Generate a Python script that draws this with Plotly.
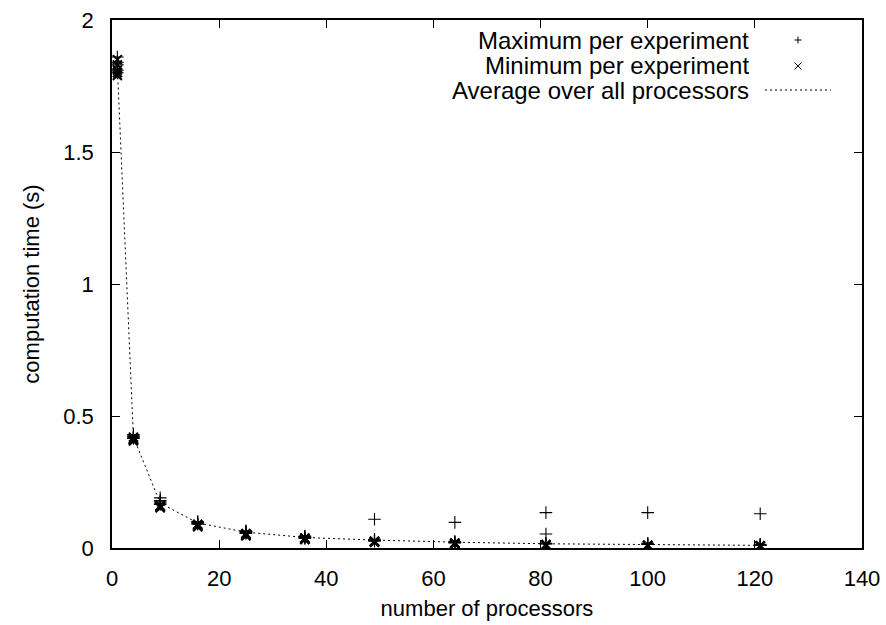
import plotly.graph_objects as go

# Processor counts used in the scaling runs
procs = [1, 4, 9, 16, 25, 36, 49, 64, 81, 100, 121]

# Per-experiment maximum computation time (s), one list per processor count
max_time_runs = [
    [1.86, 1.84, 1.83, 1.81, 1.80],
    [0.43, 0.425, 0.42, 0.42, 0.415],
    [0.19, 0.18, 0.175, 0.17, 0.165],
    [0.10, 0.098, 0.095, 0.092, 0.09],
    [0.065, 0.062, 0.06, 0.058, 0.055],
    [0.045, 0.043, 0.04, 0.038, 0.036],
    [0.109, 0.033, 0.03, 0.028, 0.026],
    [0.097, 0.025, 0.022, 0.02, 0.019],
    [0.134, 0.053, 0.018, 0.016, 0.015],
    [0.134, 0.018, 0.016, 0.014, 0.013],
    [0.130, 0.014, 0.012, 0.011, 0.010],
]

# Per-experiment minimum computation time (s)
min_time_runs = [
    [1.85, 1.83, 1.81, 1.80, 1.79],
    [0.42, 0.415, 0.41, 0.41, 0.405],
    [0.16, 0.158, 0.155, 0.155, 0.152],
    [0.09, 0.088, 0.085, 0.083, 0.08],
    [0.055, 0.052, 0.05, 0.048, 0.046],
    [0.038, 0.036, 0.034, 0.033, 0.032],
    [0.026, 0.025, 0.024, 0.023, 0.022],
    [0.019, 0.018, 0.017, 0.016, 0.015],
    [0.013, 0.012, 0.011, 0.010, 0.009],
    [0.011, 0.010, 0.009, 0.009, 0.008],
    [0.009, 0.008, 0.008, 0.007, 0.007],
]

# Average over all processors
avg_time = [1.82, 0.42, 0.17, 0.095, 0.06, 0.04, 0.03, 0.022, 0.016, 0.013, 0.01]

x_ticks = [0, 20, 40, 60, 80, 100, 120, 140]
y_ticks = [0, 0.5, 1, 1.5, 2]
y_tick_text = ["0", "0.5", "1", "1.5", "2"]

legend_labels = ["Maximum per experiment", "Minimum per experiment", "Average over all processors"]

FONT = "Liberation Sans, Arial, Helvetica, sans-serif"
FS = 22
KEY_FS = 24


def flatten(runs):
    xs, ys = [], []
    for p, vals in zip(procs, runs):
        for v in vals:
            xs.append(p)
            ys.append(v)
    return xs, ys


mx, my = flatten(max_time_runs)
nx, ny = flatten(min_time_runs)

fig = go.Figure()

fig.add_trace(go.Scatter(
    x=procs, y=avg_time, mode="lines", name=legend_labels[2],
    line=dict(color="black", width=1, dash="2px,3px"), showlegend=False,
))
fig.add_trace(go.Scatter(
    x=mx, y=my, mode="markers", name=legend_labels[0],
    marker=dict(symbol="cross-thin", size=9, line=dict(color="black", width=1.1)),
    showlegend=False,
))
fig.add_trace(go.Scatter(
    x=nx, y=ny, mode="markers", name=legend_labels[1],
    marker=dict(symbol="x-thin", size=9, line=dict(color="black", width=2)),
    showlegend=False,
))

# Key: right-aligned labels with the sample glyph to their right
plot_top, plot_h = 20, 528
plot_left, plot_w = 112, 750
key_text_px = 750    # label right edge
key_glyph_px = 798   # glyph centre
key_rows_px = [42, 67, 92]


def px_x(px):
    return (px - plot_left) / plot_w


def row_y(py):
    return 1 - (py - plot_top) / plot_h


shapes = []
annotations = []
for label, py in zip(legend_labels, key_rows_px):
    annotations.append(dict(
        x=px_x(key_text_px), y=row_y(py), xref="paper", yref="paper",
        text=label, showarrow=False, xanchor="right", yanchor="middle",
        height=24, valign="bottom", borderpad=0,
        font=dict(family=FONT, size=KEY_FS, color="black"),
    ))

gx = px_x(key_glyph_px)
dx = 3.5 / plot_w
dy = 3.5 / plot_h
glyph_rows = [40, 66, 90]
# plus glyph
y0 = row_y(glyph_rows[0])
shapes.append(dict(type="line", xref="paper", yref="paper", x0=gx - dx, x1=gx + dx, y0=y0, y1=y0,
                   line=dict(color="black", width=1)))
shapes.append(dict(type="line", xref="paper", yref="paper", x0=gx, x1=gx, y0=y0 - dy, y1=y0 + dy,
                   line=dict(color="black", width=1)))
# cross glyph
y1 = row_y(glyph_rows[1])
shapes.append(dict(type="line", xref="paper", yref="paper", x0=gx - dx, x1=gx + dx, y0=y1 - dy, y1=y1 + dy,
                   line=dict(color="black", width=1)))
shapes.append(dict(type="line", xref="paper", yref="paper", x0=gx - dx, x1=gx + dx, y0=y1 + dy, y1=y1 - dy,
                   line=dict(color="black", width=1)))
# dotted line sample
y2 = row_y(glyph_rows[2])
shapes.append(dict(type="line", xref="paper", yref="paper", x0=px_x(765), x1=px_x(831),
                   y0=y2, y1=y2, line=dict(color="black", width=1, dash="2px,3px")))

axis_common = dict(
    showgrid=False, zeroline=False, showline=True, linecolor="black", linewidth=1.5,
    mirror="ticks", ticks="inside", ticklen=8, tickwidth=1, tickcolor="black",
    tickfont=dict(family=FONT, size=FS, color="black"), automargin=False,
)

fig.update_layout(
    width=886, height=625,
    margin=dict(l=plot_left, r=886 - plot_left - plot_w, t=plot_top, b=625 - plot_top - plot_h),
    paper_bgcolor="white", plot_bgcolor="white",
    font=dict(family=FONT, size=FS, color="black"),
    xaxis=dict(
        range=[0, 140], tickvals=x_ticks, ticklabelstandoff=10,
        title=dict(text="number of processors", font=dict(family=FONT, size=FS), standoff=10),
        **axis_common,
    ),
    yaxis=dict(
        range=[0, 2], tickvals=y_ticks, ticktext=y_tick_text, ticklabelstandoff=12,
        title=dict(text="computation time (s)", font=dict(family=FONT, size=FS), standoff=18),
        **axis_common,
    ),
    shapes=shapes,
    annotations=annotations,
    showlegend=False,
)

fig.write_html("out.html")
